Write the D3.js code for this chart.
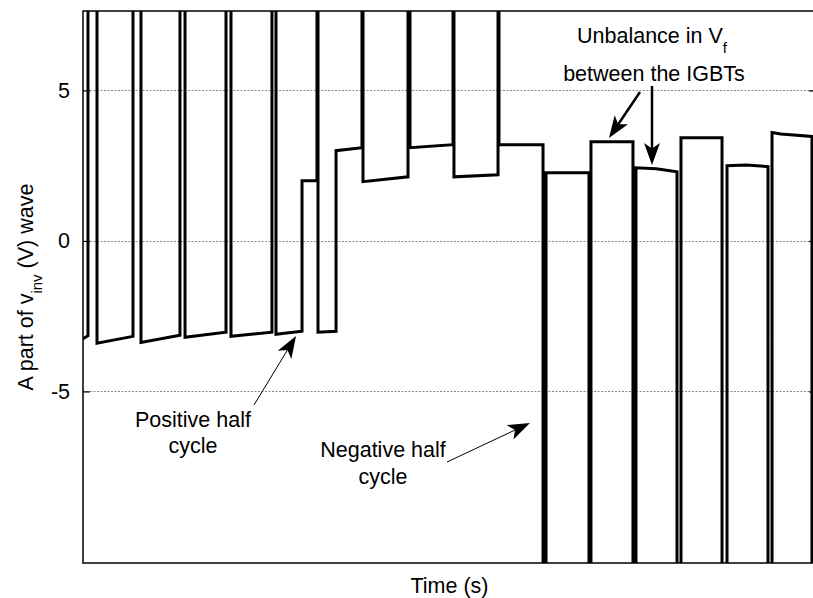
<!DOCTYPE html>
<html><head><meta charset="utf-8">
<script src="https://cdn.jsdelivr.net/npm/d3@7"></script>
<style>
html,body{margin:0;padding:0;background:#fff;}
svg{display:block;}
text{font-family:"Liberation Sans",Arial,Helvetica,sans-serif;fill:#000;}
</style>
</head><body>
<svg id="chart" width="813" height="598"></svg>
<script>
// ---- data (time in ms, voltage in V; values beyond the axes are clipped) ----
const timeMs = [
  0, 0.068, 0.068, 0.191, 0.191, 0.682, 0.682, 0.791, 0.791, 1.323,
  1.323, 1.392, 1.392, 1.951, 1.951, 2.019, 2.019, 2.578, 2.578, 2.633,
  2.633, 2.988, 2.988, 3.192, 3.192, 3.206, 3.206, 3.452, 3.452, 3.806,
  3.806, 3.820, 3.820, 4.434, 4.434, 4.461, 4.461, 5.048, 5.048, 5.061,
  5.061, 5.662, 5.662, 5.675, 5.675, 6.276, 6.276, 6.317, 6.317, 6.903,
  6.903, 6.930, 6.930, 7.503, 7.503, 7.544, 7.544, 7.82, 8.104, 8.104,
  8.158, 8.158, 8.718, 8.718, 8.786, 8.786, 9.05, 9.345, 9.345, 9.400,
  9.400, 9.52, 9.945, 9.945
];
const voltage = [
  -3.25, -3.15, 12, 12, -3.4, -3.17, 12, 12, -3.37, -3.13,
  12, 12, -3.2, -3.03, 12, 12, -3.17, -3.03, 12, 12,
  -3.1, -3.0, 2.0, 2.0, 12, 12, -3.03, -3.0, 3.0, 3.1,
  12, 12, 1.97, 2.13, 12, 12, 3.1, 3.2, 12, 12,
  2.13, 2.2, 12, 12, 3.2, 3.2, -14, -14, 2.27, 2.27,
  -14, -14, 3.3, 3.3, -14, -14, 2.43, 2.40, 2.3, -14,
  -14, 3.43, 3.43, -14, -14, 2.5, 2.52, 2.47, -14, -14,
  3.6, 3.55, 3.47, -14
];
const yTicks = [-5, 0, 5];
const yTickLabels = ["-5", "0", "5"];
const xDomain = [0, 10];
const yDomain = [-10.7, 7.64];

// ---- layout ----
const W = 813, H = 598;
const plot = {left: 83, top: 11, right: 816, bottom: 563};
const FS = 21.5;

const svg = d3.select("#chart");
svg.append("rect").attr("width", W).attr("height", H).attr("fill", "#fff");

const x = d3.scaleLinear().domain(xDomain).range([plot.left, plot.right]);
const y = d3.scaleLinear().domain(yDomain).range([plot.bottom, plot.top]);

// gridlines
svg.append("g").selectAll("line").data(yTicks).join("line")
  .attr("x1", plot.left).attr("x2", plot.right)
  .attr("y1", d => Math.round(y(d)) + 0.5).attr("y2", d => Math.round(y(d)) + 0.5)
  .attr("stroke", "#8a8a8a").attr("stroke-width", 1)
  .attr("stroke-dasharray", "2,1.5");

// clip
svg.append("clipPath").attr("id", "clip").append("rect")
  .attr("x", plot.left).attr("y", plot.top)
  .attr("width", plot.right - plot.left).attr("height", plot.bottom - plot.top);

const pts = timeMs.map((t, i) => [t, voltage[i]]);
const line = d3.line().x(d => x(d[0])).y(d => y(d[1]));
svg.append("path").datum(pts)
  .attr("clip-path", "url(#clip)")
  .attr("d", line)
  .attr("fill", "none").attr("stroke", "#000")
  .attr("stroke-width", 3).attr("stroke-linejoin", "miter");

// axes box
svg.append("rect")
  .attr("x", plot.left).attr("y", plot.top)
  .attr("width", plot.right - plot.left).attr("height", plot.bottom - plot.top)
  .attr("fill", "none").attr("stroke", "#000").attr("stroke-width", 1.5);

// left axis (ticks inward, labels)
const yAxisL = d3.axisLeft(y).tickValues(yTicks)
  .tickFormat((d, i) => yTickLabels[i]).tickSize(-7).tickPadding(13);
const gL = svg.append("g").attr("transform", `translate(${plot.left},0)`).call(yAxisL);
gL.select(".domain").remove();
gL.selectAll(".tick line").attr("stroke", "#000").attr("stroke-width", 1.2);
gL.selectAll(".tick text").attr("font-size", FS)
  .attr("font-family", '"Liberation Sans",Arial,sans-serif').attr("fill", "#000");

// right axis ticks inward
const yAxisR = d3.axisRight(y).tickValues(yTicks).tickSize(-7).tickFormat("");
const gR = svg.append("g").attr("transform", `translate(${plot.right},0)`).call(yAxisR);
gR.select(".domain").remove();
gR.selectAll(".tick line").attr("stroke", "#000").attr("stroke-width", 1.2);

// axis labels
svg.append("text").attr("x", (plot.left + plot.right) / 2).attr("y", 593)
  .attr("text-anchor", "middle").attr("font-size", FS).text("Time (s)");

const yl = svg.append("text")
  .attr("transform", `translate(33,${(plot.top + plot.bottom) / 2}) rotate(-90)`)
  .attr("text-anchor", "middle").attr("font-size", FS);
yl.append("tspan").text("A part of v");
yl.append("tspan").attr("dy", 9).attr("font-size", 15).text("inv");
yl.append("tspan").attr("dy", -9).text(" (V) wave");

// annotations
function arrow(x1, y1, x2, y2, w) {
  const dx = x2 - x1, dy = y2 - y1, len = Math.hypot(dx, dy);
  const ux = dx / len, uy = dy / len, nx = -uy, ny = ux;
  const L = 22, Hh = 8;
  svg.append("line").attr("x1", x1).attr("y1", y1)
    .attr("x2", x2 - ux * L * 0.7).attr("y2", y2 - uy * L * 0.7)
    .attr("stroke", "#000").attr("stroke-width", w);
  const p = [
    [x2, y2],
    [x2 - ux * L + nx * Hh, y2 - uy * L + ny * Hh],
    [x2 - ux * L * 0.75, y2 - uy * L * 0.75],
    [x2 - ux * L - nx * Hh, y2 - uy * L - ny * Hh]
  ];
  svg.append("polygon").attr("points", p.map(q => q.join(",")).join(" ")).attr("fill", "#000");
}

function label(lines, cx, y0, dy) {
  lines.forEach((s, i) => {
    svg.append("text").attr("x", cx).attr("y", y0 + i * dy)
      .attr("text-anchor", "middle").attr("font-size", FS).text(s);
  });
}

label(["Positive half", "cycle"], 193, 427, 26);
arrow(254, 405, 296, 336, 1);

label(["Negative half", "cycle"], 383, 457, 27);
arrow(447, 462, 530, 423, 1);

const u1 = svg.append("text").attr("x", 652).attr("y", 43)
  .attr("text-anchor", "middle").attr("font-size", FS);
u1.append("tspan").text("Unbalance in V");
u1.append("tspan").attr("dy", 10).attr("font-size", 15).text("f");
svg.append("text").attr("x", 654).attr("y", 81)
  .attr("text-anchor", "middle").attr("font-size", FS).text("between the IGBTs");

arrow(640, 92, 609, 138, 2.5);
arrow(652, 86, 652, 165, 2.5);
</script>
</body></html>
